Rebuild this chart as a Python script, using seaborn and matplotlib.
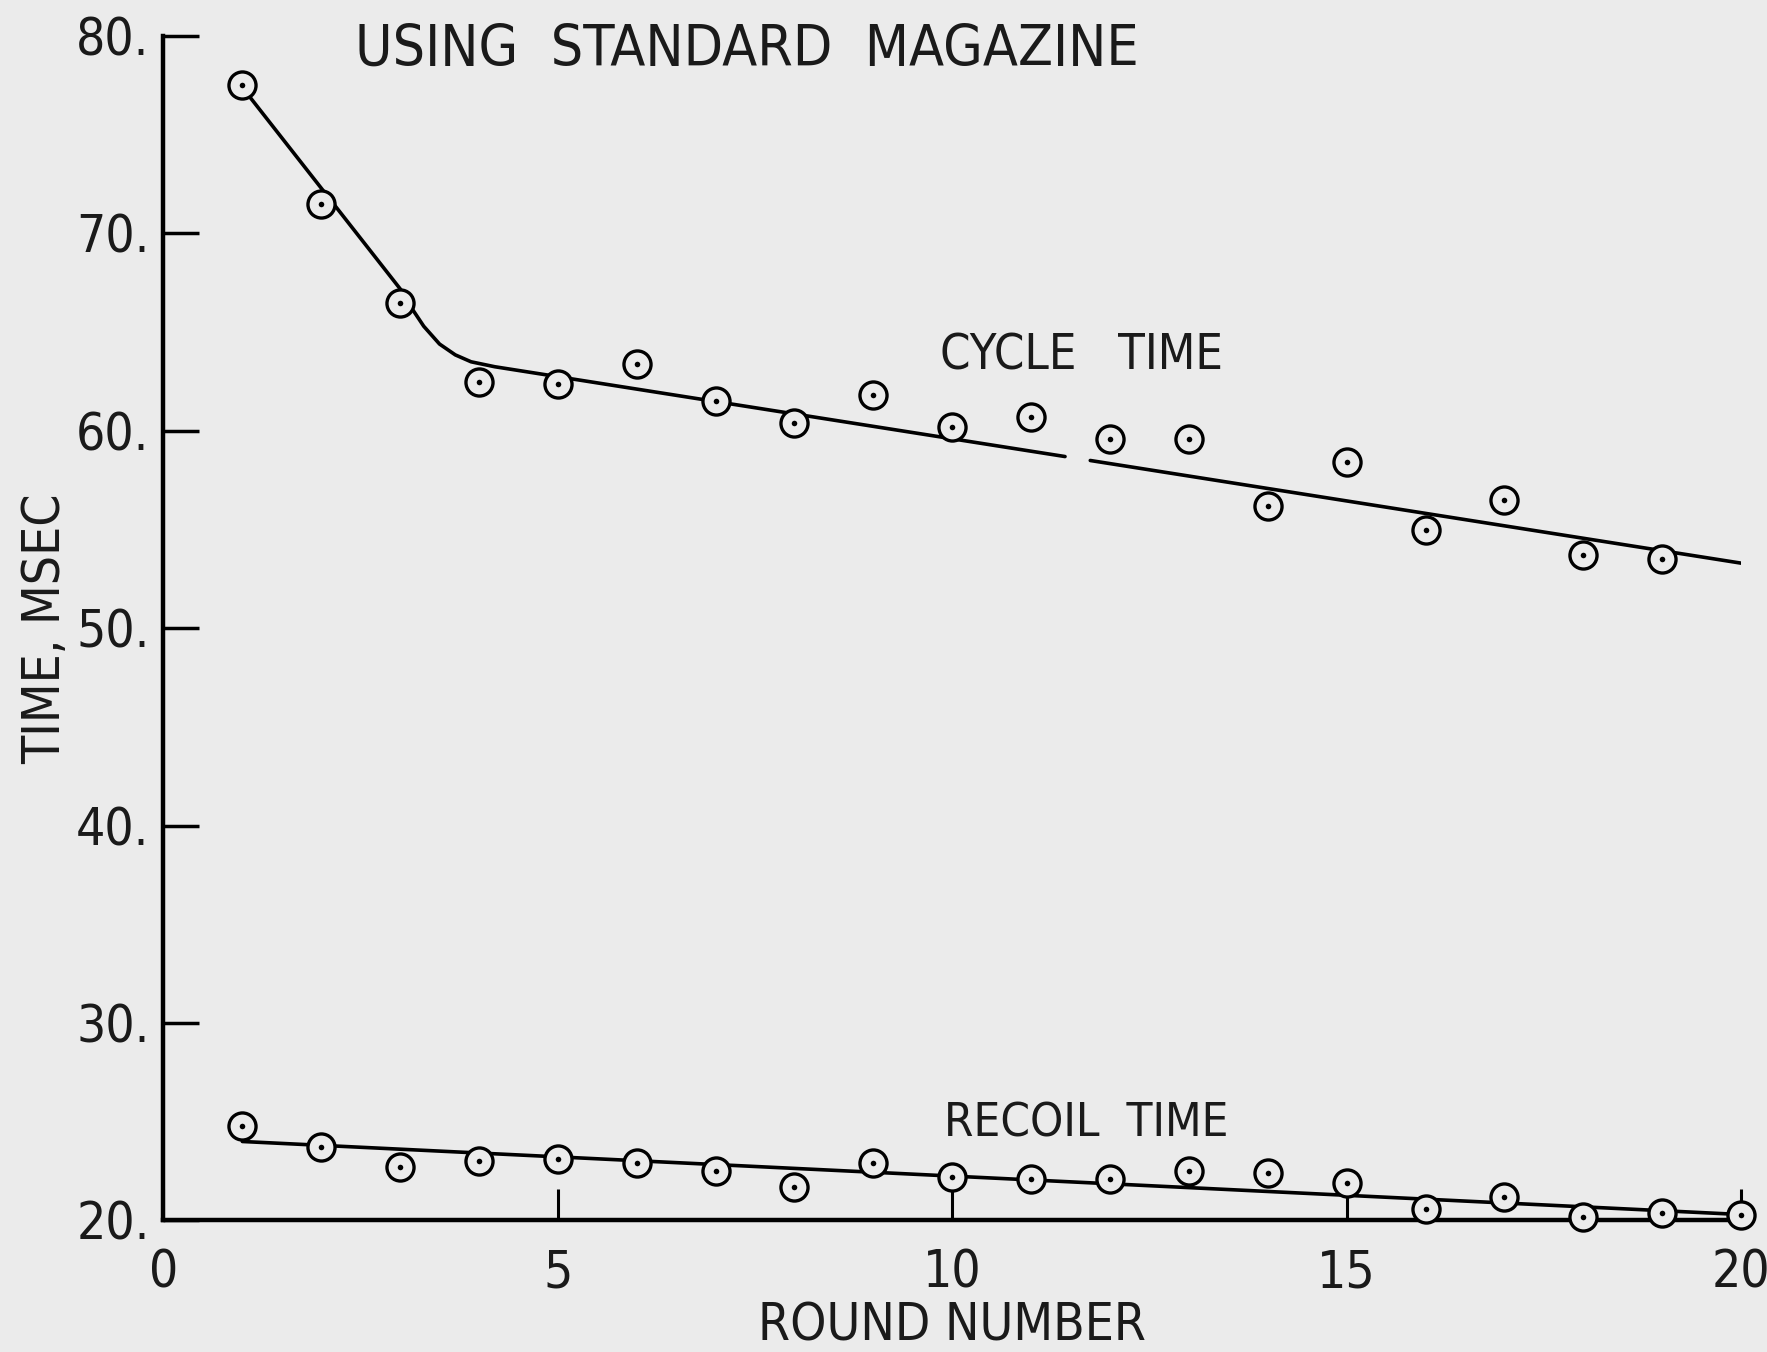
import pandas as pd
import seaborn as sns
import matplotlib.pyplot as plt

rounds = list(range(1, 20))
cycle_time = [77.5, 71.5, 66.5, 62.5, 62.4, 63.4, 61.5, 60.4, 61.8, 60.2,
              60.7, 59.6, 59.6, 56.2, 58.4, 55.0, 56.5, 53.7, 53.5]

recoil_rounds = list(range(1, 21))
recoil_time = [24.8, 23.7, 22.7, 23.0, 23.1, 22.9, 22.5, 21.7, 22.9, 22.2,
               22.1, 22.1, 22.5, 22.4, 21.9, 20.6, 21.2, 20.2, 20.4, 20.3]

# hand-drawn fit curves (two segments for cycle, gap near round 11.6)
cycle_fit_a_x = [1.0, 3.0, 3.15, 3.3, 3.5, 3.7, 3.9, 4.2, 11.43]
cycle_fit_a_y = [77.4, 67.2, 66.2, 65.3, 64.4, 63.85, 63.5, 63.25, 58.7]
cycle_fit_b_x = [11.75, 20.0]
cycle_fit_b_y = [58.5, 53.3]
recoil_fit_x = [1.0, 20.0]
recoil_fit_y = [24.0, 20.3]

x_ticks = [0, 5, 10, 15, 20]
y_ticks = [20, 30, 40, 50, 60, 70, 80]

sns.set_theme(style='ticks')
plt.rcParams['font.family'] = ['DejaVu Sans']
plt.rcParams['font.stretch'] = 'condensed'

paper = '#ebebeb'
ink = '#1a1a1a'
fig = plt.figure(figsize=(17.67, 13.52), dpi=100, facecolor=paper)
ax = fig.add_axes([0.0925, 0.0973, 0.8928, 0.876])
ax.set_facecolor(paper)

# fitted lines
for fx, fy in [(cycle_fit_a_x, cycle_fit_a_y), (cycle_fit_b_x, cycle_fit_b_y),
               (recoil_fit_x, recoil_fit_y)]:
    sns.lineplot(x=fx, y=fy, ax=ax, color='black', linewidth=2.6, sort=False)

# circled-dot markers
pts = pd.concat([
    pd.DataFrame({'round': rounds, 'time': cycle_time}),
    pd.DataFrame({'round': recoil_rounds, 'time': recoil_time}),
])
sns.scatterplot(data=pts, x='round', y='time', ax=ax, s=380, facecolor=paper,
                edgecolor='black', linewidth=2.4, zorder=3, clip_on=False)
sns.scatterplot(data=pts, x='round', y='time', ax=ax, s=16, color='black',
                linewidth=0, zorder=4, clip_on=False)

ax.set_xlim(0, 20)
ax.set_ylim(20, 80)
ax.set_xticks(x_ticks)
ax.set_xticklabels([str(t) for t in x_ticks])
ax.set_yticks(y_ticks)
ax.set_yticklabels([f'{t}.' for t in y_ticks])
ax.tick_params(axis='y', direction='in', length=26, width=2.5, color='black',
               labelsize=37, labelcolor=ink, pad=10)
ax.tick_params(axis='x', direction='in', length=22, width=2.2, color='black',
               labelsize=37, labelcolor=ink, pad=20)

for side in ['top', 'right']:
    ax.spines[side].set_visible(False)
for side in ['left', 'bottom']:
    ax.spines[side].set_linewidth(3.2)
    ax.spines[side].set_color('black')

ax.set_xlabel('ROUND NUMBER', fontsize=37, color=ink, labelpad=2)
ax.set_ylabel('TIME, MSEC', fontsize=37, color=ink, labelpad=4)

ax.text(2.43, 79.3, 'USING  STANDARD  MAGAZINE', fontsize=41, color=ink,
        va='center', ha='left')
ax.text(9.85, 63.8, 'CYCLE   TIME', fontsize=35, color=ink,
        va='center', ha='left')
ax.text(9.9, 24.9, 'RECOIL  TIME', fontsize=34, color=ink,
        va='center', ha='left')

fig.savefig('out.png', dpi=100, facecolor=paper)
